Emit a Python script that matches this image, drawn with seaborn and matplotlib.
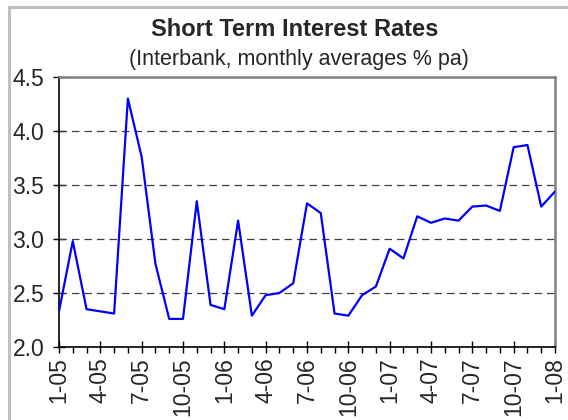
import matplotlib
matplotlib.use("Agg")
import matplotlib.pyplot as plt
from matplotlib.patches import Rectangle
from matplotlib.ticker import MultipleLocator, FixedLocator
import seaborn as sns
import pandas as pd

# Monthly interbank averages, Jan 2005 .. Jan 2008 (% pa)
months = list(range(37))
rates = [2.33, 2.98, 2.35, 2.33, 2.31, 4.30, 3.76, 2.77, 2.26, 2.26,
         3.35, 2.39, 2.35, 3.17, 2.29, 2.48, 2.50, 2.59, 3.33, 3.24,
         2.31, 2.29, 2.48, 2.56, 2.91, 2.82, 3.21, 3.15, 3.19, 3.17,
         3.30, 3.31, 3.26, 3.85, 3.87, 3.30, 3.44]
tick_labels = ["1-05", "4-05", "7-05", "10-05", "1-06", "4-06", "7-06",
               "10-06", "1-07", "4-07", "7-07", "10-07", "1-08"]
y_ticks = [2.0, 2.5, 3.0, 3.5, 4.0, 4.5]

df = pd.DataFrame({"month": months, "rate": rates})

sns.set_style("white")
plt.rcParams["font.family"] = ["Liberation Sans", "DejaVu Sans"]

fig = plt.figure(figsize=(5.68, 4.2), dpi=100)
fig.patch.set_facecolor("white")

# light grey chart-area frame
fig.patches.append(Rectangle((8.5 / 568, -0.05), 1.2, 1.05 - 7.5 / 420,
                             transform=fig.transFigure, fill=False,
                             edgecolor="#c0c0c0", linewidth=2.2, zorder=0))

ax = fig.add_axes([59 / 568, 1 - 347 / 420, (555 - 59) / 568, (347 - 77) / 420])

sns.lineplot(data=df, x="month", y="rate", ax=ax, color="#0000ff",
             linewidth=1.6, zorder=3)

ax.set_xlim(0, 36)
ax.set_ylim(2.0, 4.5)
ax.set_xlabel("")
ax.set_ylabel("")

ax.xaxis.set_major_locator(FixedLocator(list(range(0, 37, 3))))
ax.xaxis.set_minor_locator(MultipleLocator(1))
ax.set_xticklabels(tick_labels, rotation=90)
ax.set_yticks(y_ticks)
ax.set_yticklabels([f"{v:.1f}" for v in y_ticks])

ax.tick_params(axis="x", which="major", direction="inout", length=9,
               width=1, color="black", labelsize=16.5, pad=3)
ax.tick_params(axis="x", which="minor", direction="out", length=4,
               width=1, color="black")
ax.tick_params(axis="y", which="major", direction="inout", length=9,
               width=1, color="black", labelsize=16.5, pad=6)
ax.tick_params(bottom=True, left=True, which="both")
ax.tick_params(axis="y", which="minor", left=False)

for v in y_ticks[1:-1]:
    ax.axhline(v, color="#404040", linestyle=(0, (6, 4)), linewidth=0.9,
               zorder=1)

for side in ("left", "bottom"):
    ax.spines[side].set_color("black")
    ax.spines[side].set_linewidth(1.2)
for side in ("top", "right"):
    ax.spines[side].set_visible(True)
    ax.spines[side].set_color("#808080")
    ax.spines[side].set_linewidth(1.8)

fig.text(0.518, 1 - 29 / 420, "Short Term Interest Rates", ha="center",
         va="center", fontsize=17, fontweight="bold")
fig.text(0.526, 1 - 59 / 420, "(Interbank, monthly averages % pa)",
         ha="center", va="center", fontsize=15.5)

fig.savefig("out.png", dpi=100, facecolor="white")
